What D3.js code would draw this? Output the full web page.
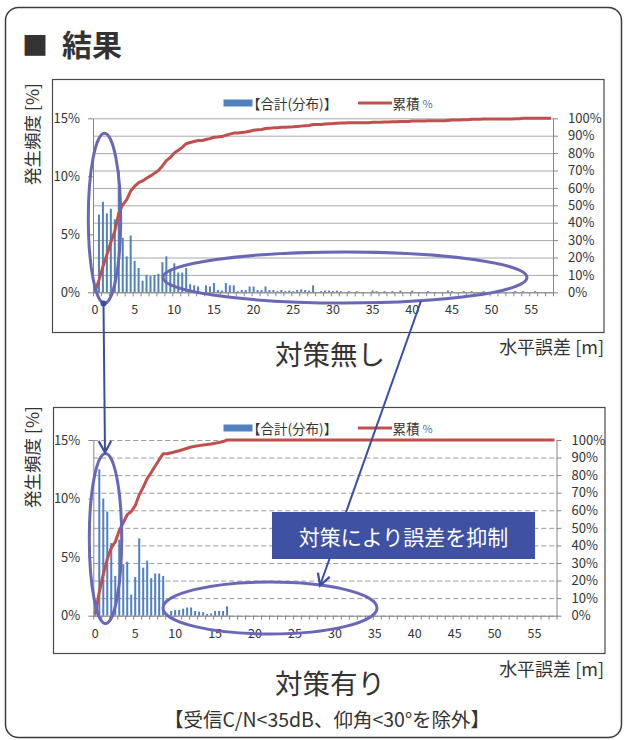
<!DOCTYPE html>
<html>
<head>
<meta charset="utf-8">
<title>結果</title>
<script src="https://d3js.org/d3.v7.min.js"></script>
<style>
  body { margin: 0; background: #fff; }
  text { font-family: "Noto Sans CJK JP", "Noto Sans", sans-serif; fill: #333; }
</style>
</head>
<body>
<svg width="627" height="740"></svg>
<script>
// horizontal error bins, 0.5 m wide (0 .. 57.5 m)
const bins = d3.range(0, 58, 0.5)
const xTickLabels = [0, 5, 10, 15, 20, 25, 30, 35, 40, 45, 50, 55]
const leftTicks = [0, 5, 10, 15]
const rightTicks = [0, 10, 20, 30, 40, 50, 60, 70, 80, 90, 100]

// 対策無し : frequency [%] per bin, cumulative [%]
const freqWithout = [
  0.3, 6.7, 7.8, 6.8, 7.2, 6.3, 10.5, 4.7, 3.1, 4.9,
  2.7, 2.1, 1.0, 1.5, 1.4, 1.5, 1.6, 2.6, 3.1, 1.9,
  2.5, 1.7, 1.7, 2.1, 0.7, 0.6, 0.5, 0, 0.6, 0.5,
  0.8, 0.2, 0.15, 0.8, 0.6, 0.6, 0.1, 0.2, 0.2, 0.5,
  0.5, 0.2, 0.2, 0.5, 0.2, 0.2, 0.1, 0.2, 0.1, 0.15,
  0.1, 0.2, 0.25, 0.2, 0.15, 0.6, 0, 0.1, 0.15, 0.15,
  0.1, 0.15, 0.1, 0, 0.1, 0, 0.1, 0, 0, 0,
  0.15, 0.1, 0, 0.1, 0, 0.1, 0, 0.15, 0, 0,
  0.15, 0, 0, 0, 0.1, 0, 0, 0, 0, 0.15,
  0.1, 0, 0, 0.1, 0, 0.1, 0, 0, 0.1, 0,
  0, 0, 0, 0, 0, 0, 0.1, 0, 0.1, 0,
  0, 0.1, 0, 0, 0, 0
]
const cumWithout = [
  0.3, 7, 14.8, 21.6, 28.8, 35.1, 45.5, 50.2, 53.3, 58.2,
  60.9, 63, 64, 65.5, 66.9, 68.4, 70, 72.6, 75.7, 77.5,
  80, 81.6, 83.3, 85.4, 86.1, 86.7, 87.2, 87.2, 87.8, 88.3,
  89.1, 89.3, 89.5, 90.3, 90.9, 91.5, 91.6, 91.9, 92.1, 92.6,
  93.1, 93.4, 93.6, 94.1, 94.3, 94.5, 94.6, 94.8, 94.9, 95.0,
  95.1, 95.3, 95.5, 95.7, 95.9, 96.4, 96.4, 96.5, 96.7, 96.9,
  97.0, 97.2, 97.3, 97.3, 97.4, 97.4, 97.5, 97.5, 97.5, 97.5,
  97.7, 97.8, 97.8, 97.9, 97.9, 98.0, 98.0, 98.2, 98.2, 98.2,
  98.4, 98.4, 98.4, 98.4, 98.6, 98.6, 98.6, 98.6, 98.6, 98.8,
  99.0, 99.0, 99.0, 99.2, 99.2, 99.4, 99.4, 99.4, 99.6, 99.6,
  99.6, 99.6, 99.6, 99.6, 99.6, 99.6, 99.8, 99.8, 100, 100,
  100, 100, 100, 100, 100, 100
]

// 対策有り
const freqWith = [
  1.0, 12.5, 10.0, 8.9, 6.2, 3.4, 6.5, 4.4, 4.6, 1.8,
  3.3, 6.6, 4.1, 4.7, 3.2, 3.6, 3.6, 3.4, 0, 0.4,
  0.5, 0.5, 0.6, 0.7, 0.7, 0.4, 0.35, 0.3, 0.15, 0.2,
  0.4, 0.4, 0.4, 0.8, 0, 0, 0, 0, 0, 0,
  0, 0, 0, 0, 0, 0, 0, 0, 0, 0,
  0, 0, 0, 0, 0, 0, 0, 0, 0, 0,
  0, 0, 0, 0, 0, 0, 0, 0, 0, 0,
  0, 0, 0, 0, 0, 0, 0, 0, 0, 0,
  0, 0, 0, 0, 0, 0, 0, 0, 0, 0,
  0, 0, 0, 0, 0, 0, 0, 0, 0, 0,
  0, 0, 0, 0, 0, 0, 0, 0, 0, 0,
  0, 0, 0, 0, 0, 0
]
const cumWith = [
  1.0, 13.5, 23.5, 32.4, 38.6, 42.0, 48.5, 52.9, 57.5, 59.3,
  62.6, 68.8, 73.2, 78.0, 81.5, 85.2, 88.8, 92.2, 92.2, 92.7,
  93.3, 93.9, 94.6, 95.3, 96.0, 96.4, 96.8, 97.2, 97.4, 97.7,
  98.2, 98.6, 99.1, 100, 100, 100, 100, 100, 100, 100,
  100, 100, 100, 100, 100, 100, 100, 100, 100, 100,
  100, 100, 100, 100, 100, 100, 100, 100, 100, 100,
  100, 100, 100, 100, 100, 100, 100, 100, 100, 100,
  100, 100, 100, 100, 100, 100, 100, 100, 100, 100,
  100, 100, 100, 100, 100, 100, 100, 100, 100, 100,
  100, 100, 100, 100, 100, 100, 100, 100, 100, 100,
  100, 100, 100, 100, 100, 100, 100, 100, 100, 100,
  100, 100, 100, 100, 100, 100
]

const svg = d3.select("svg")
const barColor = "#4f81bd"
const lineColor = "#c0504d"
const markColor = "#6a68b6"
const arrowColor = "#3a4ea0"

// outer frame + heading
svg.append("rect")
  .attr("x", 5.5).attr("y", 7.5).attr("width", 616).attr("height", 730).attr("rx", 13)
  .attr("fill", "none").attr("stroke", "#3c3c3c").attr("stroke-width", 1.5)
svg.append("text").attr("x", 22).attr("y", 43).attr("font-size", 26)
  .attr("dominant-baseline", "central").attr("fill", "#222").text("■")
svg.append("text").attr("x", 62).attr("y", 43).attr("font-size", 30).attr("font-weight", "bold")
  .attr("dominant-baseline", "central").attr("fill", "#222").text("結果")

const panels = [
  { box: [52, 79, 551.5, 253], x0: 93, x1: 553, yTop: 118.3, yBot: 292.3,
    freq: freqWithout, cum: cumWithout, dashed: false, legendY: 103,
    yLabelY: 134, caption: "対策無し", captionY: 353, unitY: 346 },
  { box: [53, 407, 551.5, 246], x0: 93.3, x1: 556.5, yTop: 440, yBot: 615.7,
    freq: freqWith, cum: cumWith, dashed: true, legendY: 428,
    yLabelY: 457, caption: "対策有り", captionY: 682, unitY: 668 }
]

function drawPanel(p) {
  const g = svg.append("g")
  g.append("rect")
    .attr("x", p.box[0] + 0.5).attr("y", p.box[1] + 0.5)
    .attr("width", p.box[2]).attr("height", p.box[3])
    .attr("fill", "none").attr("stroke", "#4a4a4a").attr("stroke-width", 1.2)

  const x = d3.scaleBand().domain(bins).range([p.x0, p.x1]).paddingInner(0.5).paddingOuter(0.25)
  const xm = d3.scaleLinear().domain([0, 58]).range([p.x0, p.x1])
  const yL = d3.scaleLinear().domain([0, 15]).range([p.yBot, p.yTop])
  const yR = d3.scaleLinear().domain([0, 100]).range([p.yBot, p.yTop])

  // gridlines
  const grid = g.append("g").attr("transform", `translate(${p.x0},0)`)
    .call(d3.axisRight(yR).tickValues(rightTicks).tickSize(p.x1 - p.x0).tickFormat(""))
  grid.select(".domain").remove()
  grid.selectAll("line")
    .attr("stroke", p.dashed ? "#9c9c9c" : "#a8a8a8")
    .attr("stroke-dasharray", p.dashed ? "5,3" : null)

  // frequency bars
  g.append("g").selectAll("rect").data(p.freq).join("rect")
    .attr("x", (d, i) => x(bins[i]))
    .attr("width", x.bandwidth())
    .attr("y", d => yL(d))
    .attr("height", d => p.yBot - yL(d))
    .attr("fill", barColor)

  // cumulative line
  const line = d3.line()
    .x((d, i) => x(bins[i]) + x.bandwidth() / 2)
    .y(d => yR(d))
  g.append("path").datum(p.cum).attr("d", line)
    .attr("fill", "none").attr("stroke", lineColor).attr("stroke-width", 3)
    .attr("stroke-linejoin", "round")

  // axes
  const axisStyle = size => sel => {
    sel.attr("font-size", size)
    sel.selectAll("line, path").attr("stroke", "#868686")
    sel.selectAll("text").attr("fill", "#404040")
  }
  g.append("g").attr("transform", `translate(${p.x0},0)`)
    .call(d3.axisLeft(yL).tickValues(leftTicks).tickSize(5).tickSizeOuter(0).tickPadding(8).tickFormat(d => d + "%"))
    .call(axisStyle(13))
  g.append("g").attr("transform", `translate(${p.x1},0)`)
    .call(d3.axisRight(yR).tickValues(rightTicks).tickSize(5).tickSizeOuter(0).tickPadding(10).tickFormat(d => d + "%"))
    .call(axisStyle(13))
  g.append("g").attr("transform", `translate(0,${p.yBot})`)
    .call(d3.axisBottom(xm).tickValues(d3.range(0, 59)).tickSize(4).tickSizeOuter(0).tickFormat(""))
    .call(axisStyle(12))
  g.append("g").attr("transform", `translate(0,${p.yBot})`)
    .call(d3.axisBottom(x).tickValues(xTickLabels).tickSize(0).tickPadding(13).tickFormat(d3.format("d")))
    .call(axisStyle(12.5))
    .call(a => a.select(".domain").remove())

  // legend
  const lg = g.append("g")
  lg.append("rect").attr("x", 223.5).attr("y", p.legendY - 3.5).attr("width", 29).attr("height", 7).attr("fill", barColor)
  lg.append("text").attr("x", 247).attr("y", p.legendY).attr("font-size", 13.5)
    .attr("dominant-baseline", "central").text("【合計(分布)】")
  lg.append("line").attr("x1", 358).attr("x2", 392).attr("y1", p.legendY).attr("y2", p.legendY)
    .attr("stroke", lineColor).attr("stroke-width", 3)
  const lt = lg.append("text").attr("x", 392.5).attr("y", p.legendY).attr("font-size", 13.5)
    .attr("dominant-baseline", "central").text("累積 ")
  lt.append("tspan").attr("font-size", 11).attr("fill", "#4f6fb0").text("%")

  // axis titles and caption
  g.append("text").attr("transform", `translate(31.7,${p.yLabelY}) rotate(-90)`)
    .attr("text-anchor", "middle").attr("dominant-baseline", "central").attr("font-size", 17.5)
    .text("発生頻度 [%]")
  g.append("text").attr("x", 604).attr("y", p.unitY).attr("text-anchor", "end")
    .attr("dominant-baseline", "central").attr("font-size", 18).text("水平誤差 [m]")
  g.append("text").attr("x", 330).attr("y", p.captionY).attr("text-anchor", "middle")
    .attr("dominant-baseline", "central").attr("font-size", 27.5).text(p.caption)
}

panels.forEach(drawPanel)

// footer note
svg.append("text").attr("x", 327).attr("y", 718).attr("text-anchor", "middle")
  .attr("dominant-baseline", "central").attr("font-size", 19.5).text("【受信C/N<35dB、仰角<30°を除外】")

// annotations: ellipses, arrows, call-out box
const ellipses = [
  { cx: 104.5, cy: 218.3, rx: 16.2, ry: 85 },
  { cx: 345, cy: 277.5, rx: 182, ry: 25.5 },
  { cx: 105.5, cy: 538.5, rx: 16.2, ry: 85 },
  { cx: 270, cy: 608, rx: 107, ry: 26 }
]
const arrows = [
  { from: [103.5, 303.5], to: [105, 452.5], dot: true },
  { from: [421, 301], to: [320, 585.5], dot: false }
]

const ann = svg.append("g")
ann.selectAll("ellipse").data(ellipses).join("ellipse")
  .attr("cx", d => d.cx).attr("cy", d => d.cy).attr("rx", d => d.rx).attr("ry", d => d.ry)
  .attr("fill", "none").attr("stroke", markColor).attr("stroke-width", 3)

arrows.forEach(a => {
  const [x1, y1] = a.from, [x2, y2] = a.to
  ann.append("line").attr("x1", x1).attr("y1", y1).attr("x2", x2).attr("y2", y2)
    .attr("stroke", arrowColor).attr("stroke-width", 2)
  const ang = Math.atan2(y2 - y1, x2 - x1), L = 13, w = 0.5
  const head = [
    [x2 - L * Math.cos(ang - w), y2 - L * Math.sin(ang - w)],
    [x2, y2],
    [x2 - L * Math.cos(ang + w), y2 - L * Math.sin(ang + w)]
  ]
  ann.append("path").attr("d", d3.line()(head))
    .attr("fill", "none").attr("stroke", arrowColor).attr("stroke-width", 2.2)
  if (a.dot) ann.append("circle").attr("cx", x1).attr("cy", y1).attr("r", 3).attr("fill", arrowColor)
})

ann.append("rect").attr("x", 272).attr("y", 512).attr("width", 263).attr("height", 47).attr("fill", "#3f51a2")
ann.append("text").attr("x", 403.5).attr("y", 536).attr("text-anchor", "middle")
  .attr("dominant-baseline", "central").attr("font-size", 21).attr("fill", "#fff")
  .style("fill", "#fff").text("対策により誤差を抑制")
</script>
</body>
</html>
